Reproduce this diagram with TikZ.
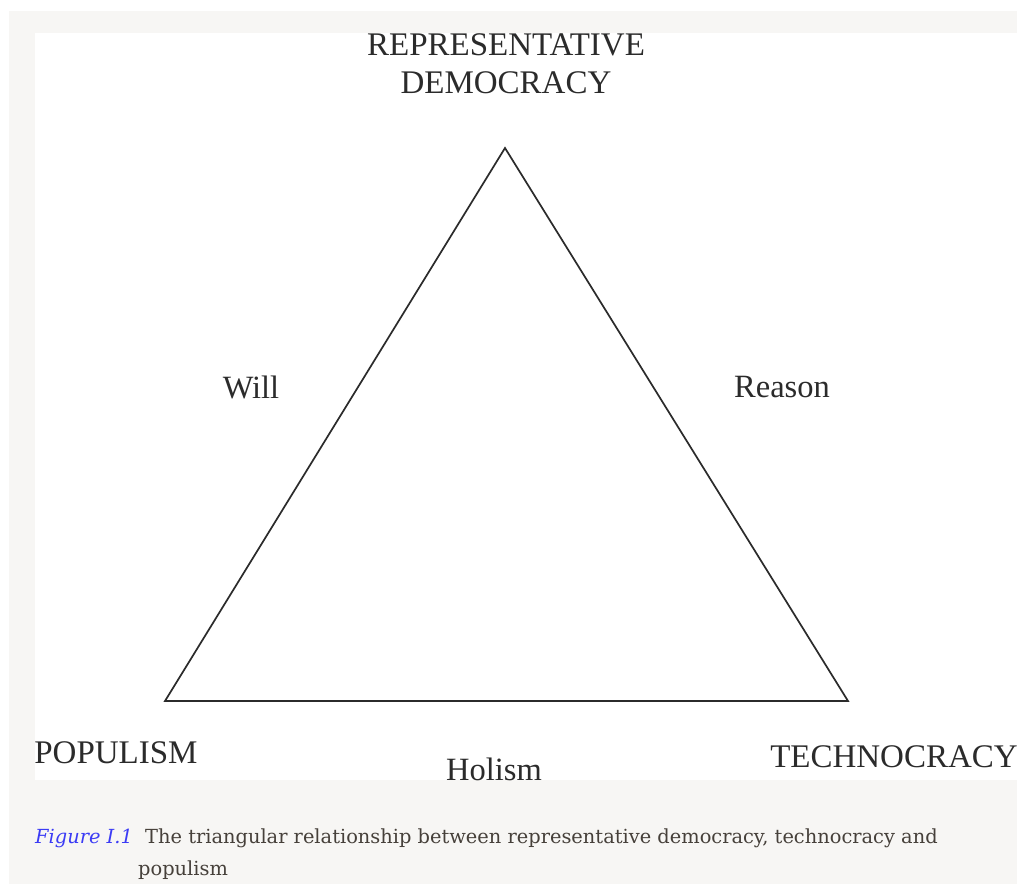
\documentclass[tikz,border=0pt]{standalone}
\usepackage{fontspec}
\setmainfont{Liberation Serif}
\newfontfamily\capfont{DejaVu Serif}
\usetikzlibrary{positioning}

\definecolor{pagegray}{HTML}{F7F6F4}
\definecolor{inkgray}{HTML}{2B2B2B}
\definecolor{capink}{HTML}{46403A}
\definecolor{figblue}{HTML}{3B3BF5}

\begin{document}
\begin{tikzpicture}[
  x=1pt, y=-1pt,
  % --- labels ---
  corner/.style={font=\fontsize{33}{38}\selectfont, text=inkgray, inner sep=0pt, align=center},
  side/.style={font=\fontsize{32.5}{38}\selectfont, text=inkgray, inner sep=0pt},
  captext/.style={font=\capfont\fontsize{19.4}{22}\selectfont, text=capink, inner sep=0pt, anchor=base west},
  % --- lines ---
  edge/.style={line width=1.7pt, draw=inkgray, line join=miter},
]
\useasboundingbox (0,0) rectangle (1017,884);

% ===================== PANELS =====================

\fill[pagegray] (9,11) rectangle (1017,884);
\fill[white] (35,33) rectangle (1017,780);

% ===================== TRIANGLE =====================

\coordinate (apex) at (505,148);
\coordinate (popc) at (165,701);
\coordinate (tecc) at (848,701);

\draw[edge] (apex) -- (tecc) -- (popc) -- cycle;

% ===================== LABELS =====================

\node[corner] (rd) at (506,64) {REPRESENTATIVE\\DEMOCRACY};
\node[corner] (pop) at (116,753) {POPULISM};
\node[corner] (tech) at (894,757) {TECHNOCRACY};

\node[side] (will) at (251,387) {Will};
\node[side] (reason) at (782,387) {Reason};
\node[side] (holism) at (494,769) {Holism};

% ===================== CAPTION =====================

\node[captext, text=figblue] (fig) at (35,843) {\itshape Figure I.1};
\node[captext] (capl1) at (145,843) {The triangular relationship between representative democracy, technocracy and};
\node[captext] (capl2) at (138,875) {populism};

\end{tikzpicture}
\end{document}
